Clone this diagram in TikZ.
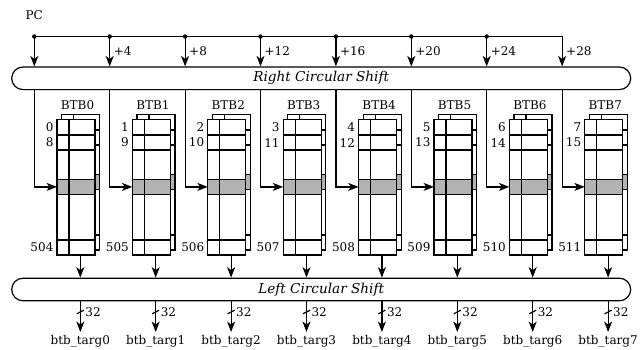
\documentclass[tikz,border=0pt]{standalone}
\usepackage{fontspec}
\setmainfont{DejaVu Serif}
\usetikzlibrary{arrows.meta}

\begin{document}
\begin{tikzpicture}[x=1pt,y=-1pt,line width=1.2pt,
>={Stealth[length=10.5pt,width=8pt,inset=3pt]},
every node/.style={inner sep=0pt,font=\fontsize{12}{14}\selectfont},
shifter/.style={draw,fill=white,rounded corners=11.3pt,minimum width=619pt,minimum height=22.6pt,font=\fontsize{13.6}{16}\selectfont\itshape},
dot/.style={circle,fill,minimum size=4.5pt},
btbtable/.pic={
  \fill[white] (0,0) rectangle (38,135.3);
  \fill[black!30] (0,59.6) rectangle (38,75);
  \draw (0,15.3) -- (38,15.3) (0,30.3) -- (38,30.3) (0,59.6) -- (38,59.6)
        (0,75) -- (38,75) (0,120.3) -- (38,120.3) (12,0) -- (12,135.3);
  \draw (0,0) rectangle (38,135.3);
}]

\useasboundingbox (0,0) rectangle (641,349);

\node (rshift) [shifter] at (321.2,78.3) {Right Circular Shift};
\node (lshift) [shifter] at (321.2,289.5) {Left Circular Shift};
\node (pc) at (34.3,15) {PC};

\foreach \k in {0,...,7} {
  \pgfmathsetmacro{\xt}{34.3+75.4*\k}
  \pgfmathsetmacro{\xl}{57+75.4*\k}
  \pgfmathsetmacro{\xo}{80.3+75.4*\k}
  \pgfmathtruncatemacro{\second}{\k+8}
  \pgfmathtruncatemacro{\last}{504+\k}
  \coordinate (tap\k) at (\xt,36.5);
  \coordinate (hit\k) at (\xl,186.9);
  \coordinate (out\k) at (\xo,255);
  \pic at (\xl+4.5,114.7) {btbtable};
  \pic at (\xl,119.7) {btbtable};
  \node (btb\k) at (\xl+20.5,105) {BTB\k};
  \node (first\k) [anchor=east] at (\xl-3,127.4) {\k};
  \node (next\k) [anchor=east] at (\xl-3,142.6) {\second};
  \node (end\k) [anchor=east] at (\xl-3,247.6) {\last};
  \draw[->] (tap\k |- rshift.south) |- (hit\k);
  \draw[->] (out\k) -- (out\k |- lshift.north);
  \node (targ\k) [anchor=north] at (\xo,335) {btb\_targ\k};
  \draw[->,shorten >=3pt] (out\k |- lshift.south) -- (targ\k.north);
  \draw (\xo-3.5,313.8) -- (\xo+3.5,310.2);
  \node (width\k) [anchor=west] at (\xo+4.5,312) {32};
}

\foreach \k in {1,...,7} {
  \pgfmathtruncatemacro{\off}{4*\k}
  \node (plus\k) [anchor=west] at ([xshift=3.5pt]tap\k |- 0,51) {+\off};
}

\foreach \k in {0,...,6} {
  \node (dot\k) [dot] at (tap\k) {};
  \draw[->] (tap\k) -- (tap\k |- rshift.north);
}
\draw[->] (tap0) -- (tap7) -- (tap7 |- rshift.north);

\end{tikzpicture}
\end{document}
